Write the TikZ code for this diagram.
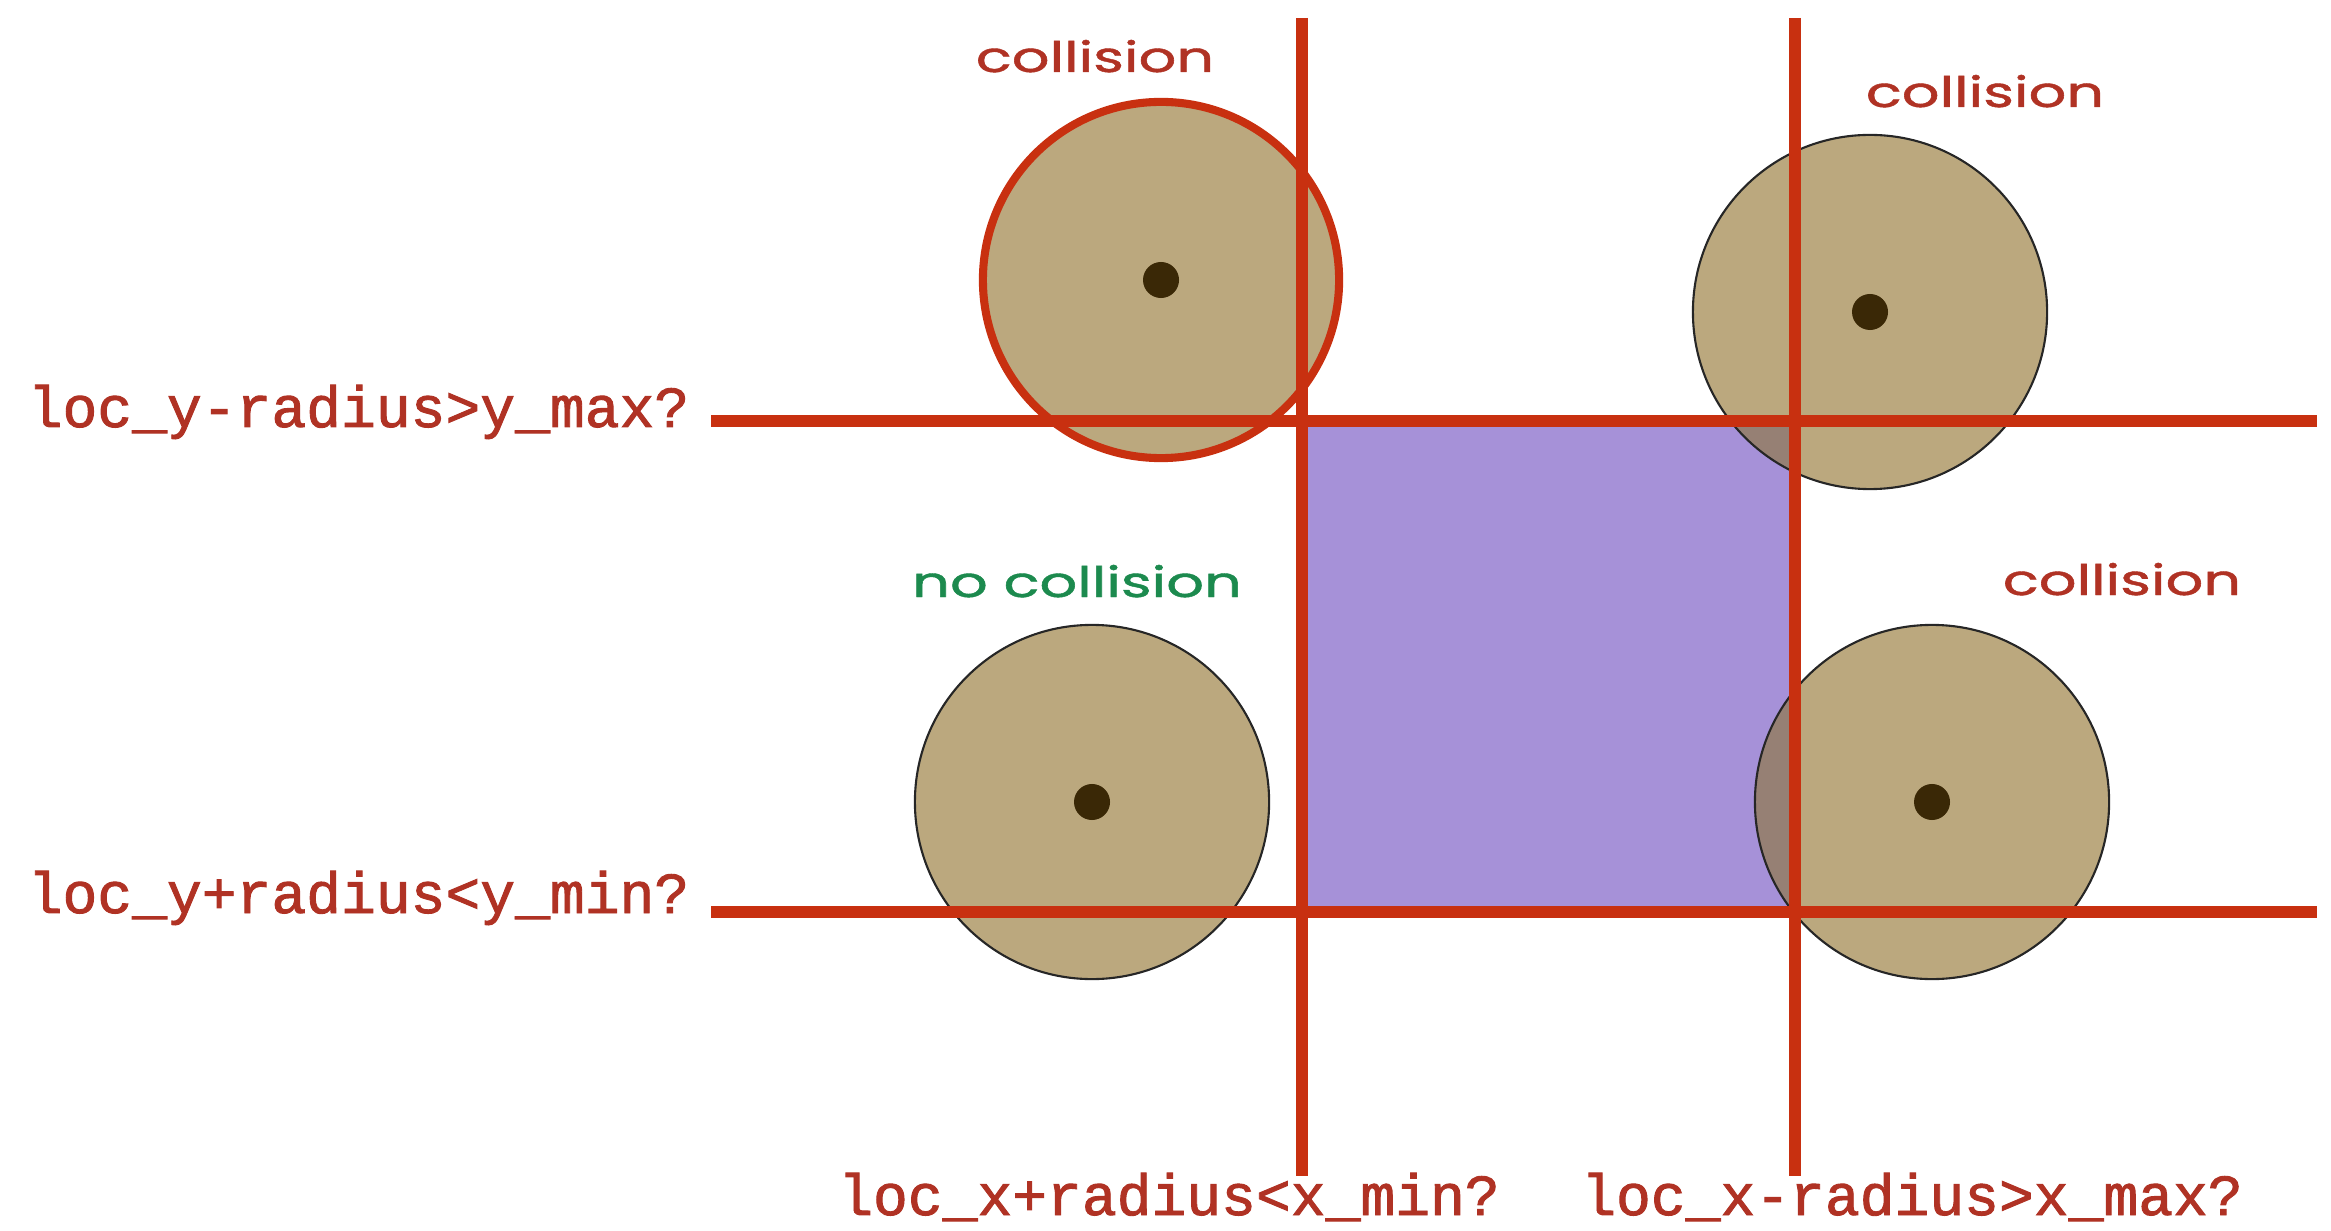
\documentclass[tikz,border=0pt]{standalone}
\usepackage{fontspec}
\usepackage{graphicx}
\newfontfamily\codefont[FakeBold=1.6]{Liberation Mono}
\newfontfamily\handfont[FakeBold=1]{Poppins}
\usetikzlibrary{positioning}

\definecolor{wallred}{RGB}{200,48,16}
\definecolor{labelred}{RGB}{176,50,36}
\definecolor{okgreen}{RGB}{28,138,78}
\definecolor{balltan}{RGB}{187,168,126}
\definecolor{boxpurple}{RGB}{166,145,216}
\definecolor{overlapc}{RGB}{150,128,116}
\definecolor{dotbrown}{RGB}{58,40,6}

\newcommand{\hand}[1]{\scalebox{1.4}[1]{#1}}

\tikzset{
  wall/.style={wallred,line width=3.4pt},
  ballrim/.style={draw=black!85,line width=0.6pt},
  cond/.style={labelred,inner sep=0pt,font=\codefont\fontsize{16.5}{18}\selectfont},
  verdict/.style={labelred,inner sep=0pt,font=\handfont\fontsize{12}{14}\selectfont},
}

\begin{document}
\begin{tikzpicture}[x=0.01cm,y=-0.01cm]
  \useasboundingbox (0,0) rectangle (2331,1231);
  % the box between the four walls
  \fill[boxpurple] (1302,421) rectangle (1795,912);
  % balls
  \foreach \cx/\cy in {1870/312,1092/802,1932/802}
    \fill[balltan] (\cx,\cy) circle[radius=1.77cm];
  \begin{scope}
    \clip (1302,421) rectangle (1795,912);
    \fill[overlapc] (1870,312) circle[radius=1.77cm];
    \fill[overlapc] (1932,802) circle[radius=1.77cm];
  \end{scope}
  \foreach \cx/\cy in {1870/312,1092/802,1932/802}
    \draw[ballrim] (\cx,\cy) circle[radius=1.77cm];
  \draw[wallred,fill=balltan,line width=2.3pt] (1161,280) circle[radius=1.78cm];
  \foreach \cx/\cy in {1161/280,1870/312,1092/802,1932/802}
    \fill[dotbrown] (\cx,\cy) circle[radius=0.18cm];
  % walls
  \draw[wall] (1302,18) -- (1302,1176);
  \draw[wall] (1795,18) -- (1795,1176);
  \draw[wall] (711,421) -- (2317,421);
  \draw[wall] (711,912) -- (2317,912);
  % tests
  \node[cond,anchor=base east] (ymax) at (690,427) {loc\_y-radius>y\_max?};
  \node[cond,anchor=base east] (ymin) at (690,913) {loc\_y+radius<y\_min?};
  \node[cond,anchor=base] (xmin) at (1169,1215) {loc\_x+radius<x\_min?};
  \node[cond,anchor=base] (xmax) at (1912,1215) {loc\_x-radius>x\_max?};
  % verdicts
  \node[verdict,anchor=base] (hittl) at (1095,72) {\hand{collision}};
  \node[verdict,anchor=base] (hittr) at (1985,107) {\hand{collision}};
  \node[verdict,anchor=base] (hitbr) at (2122,595) {\hand{collision}};
  \node[verdict,okgreen,anchor=base] (missbl) at (1077,597) {\hand{no collision}};
\end{tikzpicture}
\end{document}
